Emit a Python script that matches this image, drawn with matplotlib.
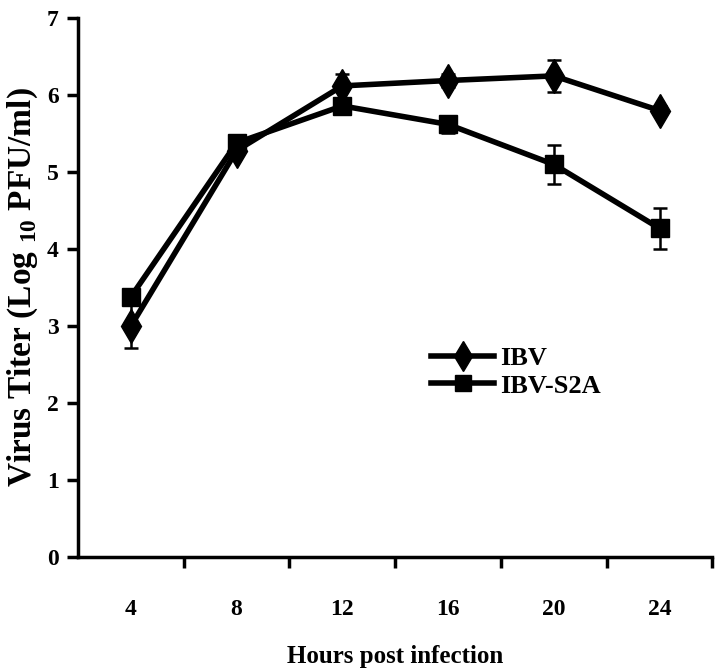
import numpy as np
import matplotlib.pyplot as plt
from matplotlib.lines import Line2D

hours = ['4', '8', '12', '16', '20', '24']
ibv = [3.0, 5.28, 6.12, 6.19, 6.25, 5.8]
ibv_err = [0.28, 0.05, 0.16, 0.08, 0.21, 0.06]
s2a = [3.38, 5.38, 5.86, 5.62, 5.1, 4.27]
s2a_err = [0.06, 0.06, 0.08, 0.11, 0.25, 0.27]

plt.rcParams['font.family'] = 'Liberation Serif'
plt.rcParams['font.weight'] = 'bold'
plt.rcParams['mathtext.fontset'] = 'custom'
plt.rcParams['mathtext.rm'] = 'Liberation Serif:bold'
plt.rcParams['mathtext.bf'] = 'Liberation Serif:bold'

fig = plt.figure(figsize=(7.25, 6.72), dpi=100)
ax = fig.add_axes([0.1076, 0.171, 0.875, 0.802])

x = np.arange(len(hours))
ax.errorbar(x, ibv, yerr=ibv_err, color='black', lw=4, marker='d', markersize=17,
            ecolor='black', elinewidth=1.8, capsize=5, capthick=1.8)
ax.errorbar(x, s2a, yerr=s2a_err, color='black', lw=4, marker='s', markersize=13,
            ecolor='black', elinewidth=1.8, capsize=5, capthick=1.8)

ax.set_xlim(-0.5, 5.5)
ax.set_ylim(0, 7)
ax.set_yticks(range(8))
ax.set_xticks(np.arange(0.5, 6, 1))
ax.set_xticklabels([])
ax.set_xticks(x, minor=True)
ax.set_xticklabels(hours, minor=True)
ax.tick_params(axis='x', which='minor', length=0, pad=30, labelsize=17)
ax.tick_params(axis='x', which='major', direction='out', length=8, width=2.5)
ax.tick_params(axis='y', direction='out', length=8, width=2.5, labelsize=17, pad=6)

for s in ['top', 'right']:
    ax.spines[s].set_visible(False)
for s in ['left', 'bottom']:
    ax.spines[s].set_linewidth(2.5)

ax.set_xlabel('Hours post infection', fontsize=18, fontweight='bold', labelpad=18)
ax.set_ylabel(r'Virus Titer (Log $_{\mathbf{10}}$ PFU/ml)', fontsize=24, fontweight='bold', labelpad=5)

handles = [Line2D([], [], color='black', lw=4, marker='d', markersize=15),
           Line2D([], [], color='black', lw=4, marker='s', markersize=12)]
ax.legend(handles, ['IBV', 'IBV-S2A'], loc='upper left', bbox_to_anchor=(0.54, 0.41),
          frameon=False, fontsize=19, handlelength=2.4, labelspacing=0.15, handletextpad=0.2,
          borderaxespad=0)

fig.savefig('out.png', dpi=100)
